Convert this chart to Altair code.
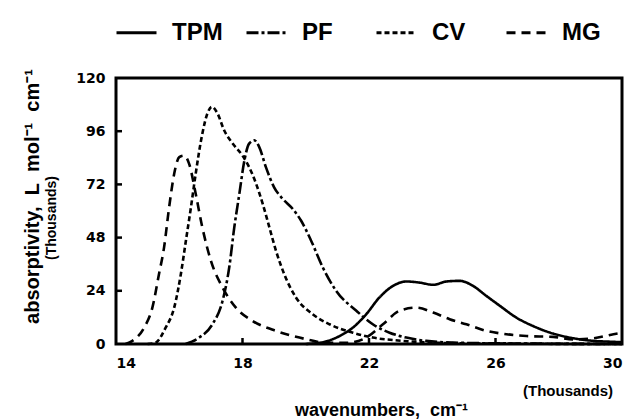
import altair as alt
import pandas as pd

# Absorption spectra of four triphenylmethane dyes (absorptivity in thousands)
SERIES = ["TPM", "PF", "CV", "MG"]

TPM_X = [20.0, 20.6, 21.07, 21.49, 21.91, 22.33, 22.76, 23.18, 23.6, 24.03, 24.45,
         24.87, 25.29, 25.71, 26.14, 26.66, 27.19, 27.82, 28.46, 29.1, 29.7, 30.0]
TPM_Y = [0.0, 1.0, 3.6, 7.4, 13.4, 21.0, 26.2, 28.2, 27.7, 26.7, 28.2,
         28.5, 26.2, 21.7, 17.2, 11.9, 8.1, 4.7, 2.6, 1.4, 1.0, 0.8]

PF_X = [16.2, 16.63, 17.05, 17.37, 17.58, 17.74, 17.9, 18.06, 18.21, 18.37, 18.53,
        18.74, 19.0, 19.27, 19.59, 19.85, 20.17, 20.54, 20.96, 21.6, 22.12, 22.65,
        23.18, 23.81, 25.0, 27.0, 30.0]
PF_Y = [0.0, 2.9, 8.9, 19.5, 34.5, 52.6, 67.7, 82.8, 90.4, 91.9, 88.8,
        79.8, 70.7, 65.5, 60.9, 55.7, 46.6, 34.5, 24.0, 15.0, 8.9, 5.1,
        2.9, 1.4, 0.5, 0.2, 0.0]

CV_X = [15.0, 15.25, 15.57, 15.84, 16.05, 16.21, 16.37, 16.52, 16.73, 16.89, 17.03,
        17.21, 17.42, 17.69, 18.0, 18.21, 18.43, 18.64, 18.85, 19.06, 19.32, 19.69,
        20.22, 20.75, 21.49, 22.12, 23.0, 24.0, 26.0, 30.0]
CV_Y = [0.0, 0.6, 7.4, 16.4, 31.5, 46.6, 61.7, 76.8, 94.9, 104.0, 107.0,
        104.0, 96.4, 90.4, 85.0, 79.8, 72.3, 63.2, 52.6, 42.0, 31.5, 21.0,
        13.4, 8.9, 5.1, 2.9, 1.5, 0.6, 0.2, 0.0]

MG_X = [14.3, 14.52, 14.89, 15.15, 15.36, 15.52, 15.68, 15.84, 16.0, 16.15, 16.31,
        16.52, 16.73, 17.0, 17.37, 17.79, 18.32, 19.06, 19.8, 20.64, 21.3, 21.91,
        22.44, 22.97, 23.5, 24.03, 24.55, 25.08, 25.72, 26.35, 26.98, 27.83, 28.46,
        29.1, 29.73, 30.0]
MG_Y = [0.0, 1.4, 7.4, 16.4, 31.6, 43.6, 61.7, 76.8, 84.3, 85.0, 81.4,
        67.8, 52.6, 37.6, 25.5, 16.4, 10.4, 5.9, 2.9, 0.6, 0.5, 2.9,
        8.9, 15.0, 16.4, 14.2, 11.2, 8.9, 5.9, 4.4, 3.6, 3.2, 2.1,
        2.6, 4.4, 5.0]

X_TICKS = [14, 18, 22, 26, 30]
Y_TICKS = [0, 24, 48, 72, 96, 120]
X_INNER_TICKS = [18, 22, 26]
Y_INNER_TICKS = [24, 48, 72, 96]

DASHES = [[1, 0], [12, 3, 3, 3], [5, 3], [9, 6]]

FONT = "Liberation Sans"
TICK_FONT = "DejaVu Sans"
W, H = 506, 266
SP = "\u00a0\u00a0"  # wide word gaps in the axis titles

Y_TITLE = f"absorptivity,{SP}L{SP}mol⁻¹{SP}cm⁻¹"
X_TITLE = f"wavenumbers,{SP}cm⁻¹"

rows = []
for name, xs, ys in [("TPM", TPM_X, TPM_Y), ("PF", PF_X, PF_Y),
                     ("CV", CV_X, CV_Y), ("MG", MG_X, MG_Y)]:
    rows += [{"series": name, "wn": x, "abs": y} for x, y in zip(xs, ys)]
df = pd.DataFrame(rows)

x_scale = alt.Scale(domain=[14, 30], nice=False, zero=False)
y_scale = alt.Scale(domain=[0, 120], nice=False)

lines = alt.Chart(df).mark_line(
    color="black", strokeWidth=2.6, interpolate="monotone"
).encode(
    x=alt.X("wn:Q", scale=x_scale,
            axis=alt.Axis(values=X_TICKS, title=X_TITLE,
                          titleX=265, titleY=66, titleBaseline="middle",
                          titleAnchor="start", titleAlign="center")),
    y=alt.Y("abs:Q", scale=y_scale,
            axis=alt.Axis(values=Y_TICKS, title=Y_TITLE,
                          titleX=-84, titleY=118, titleBaseline="middle",
                          titleAlign="center", titleAngle=270)),
    strokeDash=alt.StrokeDash(
        "series:N",
        scale=alt.Scale(domain=SERIES, range=DASHES),
        sort=SERIES,
        legend=alt.Legend(
            title=None, orient="none", direction="horizontal", columns=4,
            legendX=-1, legendY=-67, padding=0,
            symbolType="stroke", symbolSize=1600, symbolStrokeWidth=3,
            symbolStrokeColor="black",
            labelFont=FONT, labelFontSize=24, labelFontWeight="bold",
            labelColor="black", labelOffset=14, columnPadding=17,
            gridAlign="all",
        ),
    ),
    detail="series:N",
)

# inward tick marks on the left and bottom edges
yt = alt.Chart(pd.DataFrame({"v": Y_INNER_TICKS})).mark_rule(
    color="black", strokeWidth=2.5
).encode(y=alt.Y("v:Q", scale=y_scale), x=alt.value(0), x2=alt.value(6))

xt = alt.Chart(pd.DataFrame({"v": X_INNER_TICKS})).mark_rule(
    color="black", strokeWidth=2.5
).encode(x=alt.X("v:Q", scale=x_scale), y=alt.value(H), y2=alt.value(H - 6))

units_y = alt.Chart(pd.DataFrame({"t": ["(Thousands)"]})).mark_text(
    font=FONT, fontSize=14, fontWeight="bold", angle=270,
    align="center", baseline="middle", color="black"
).encode(text="t:N", x=alt.value(-64), y=alt.value(140))

units_x = alt.Chart(pd.DataFrame({"t": ["(Thousands)"]})).mark_text(
    font=FONT, fontSize=15, fontWeight="bold",
    align="right", baseline="middle", color="black"
).encode(text="t:N", x=alt.value(497), y=alt.value(313))

chart = alt.layer(lines, yt, xt, units_y, units_x).properties(
    width=W, height=H,
    autosize=alt.AutoSizeParams(type="none"),
    padding={"left": 116, "top": 78, "right": 10, "bottom": 76},
    background="white",
).configure_view(
    stroke="black", strokeWidth=3
).configure_axis(
    domain=False, grid=False, ticks=False,
    labelFont=TICK_FONT, labelFontSize=14, labelFontWeight="bold", labelColor="black",
    titleFont=FONT, titleFontWeight="bold", titleColor="black",
).configure_axisY(
    labelPadding=11, titleFontSize=20,
).configure_axisX(
    labelPadding=12, titleFontSize=18,
)

chart.save("out.html", embed_options={"renderer": "svg", "actions": False})
